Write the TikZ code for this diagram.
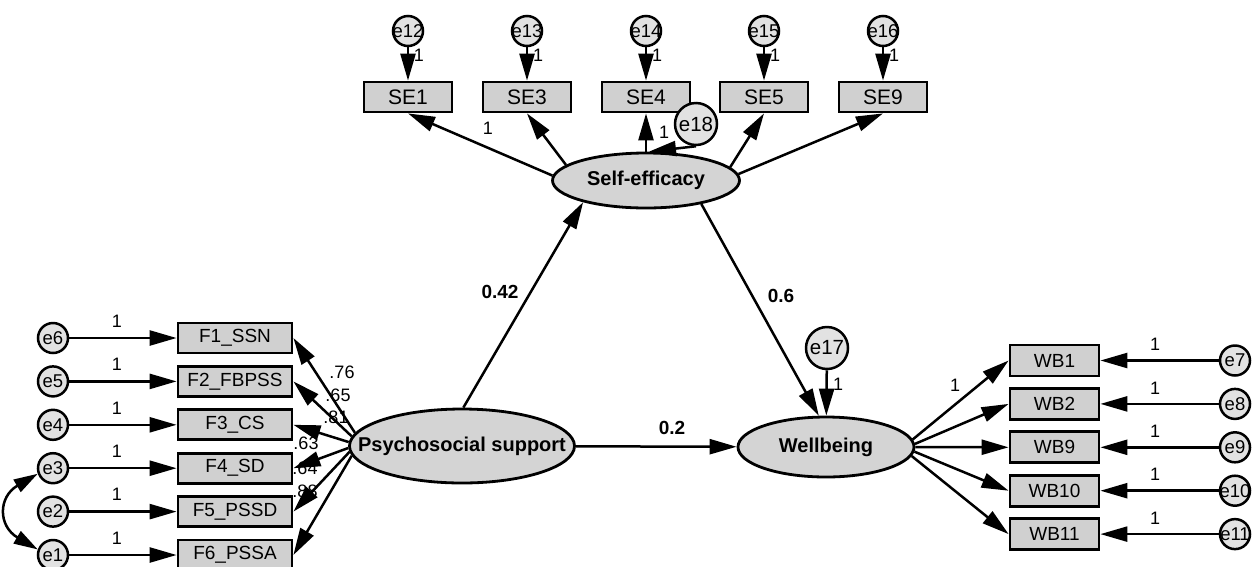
\documentclass[tikz,border=0pt]{standalone}
\usepackage{fontspec}
\setmainfont{Liberation Sans}
\usetikzlibrary{arrows.meta,shapes.geometric}
\definecolor{boxgray}{RGB}{208,208,208}
\definecolor{latgray}{RGB}{212,212,212}
\definecolor{errgray}{RGB}{226,226,226}
\begin{document}
\begin{tikzpicture}[x=1pt,y=-1pt,
  obs/.style={draw, line width=2.8pt, fill=boxgray, minimum width=88pt, minimum height=30pt, inner sep=0pt, font=\fontsize{19}{19}\selectfont},
  seobs/.style={obs, font=\fontsize{21}{21}\selectfont},
  fobs/.style={obs, minimum width=114pt},
  err/.style={circle, draw, line width=2.5pt, fill=errgray, minimum size=30pt, inner sep=0pt, font=\fontsize{18.5}{18.5}\selectfont},
  bigerr/.style={err, minimum size=42pt, font=\fontsize{20.5}{20.5}\selectfont},
  lat/.style={ellipse, draw, line width=2.8pt, fill=latgray, inner sep=0pt, font=\bfseries\fontsize{20}{20}\selectfont},
  arr/.style={line width=2.5pt, -{Triangle[length=27pt,width=15pt]}},
  cov/.style={line width=2.5pt, {Triangle[length=24pt,width=14pt]}-{Triangle[length=24pt,width=14pt]}},
  num/.style={font=\fontsize{18}{18}\selectfont, inner sep=0pt},
  coef/.style={font=\bfseries\fontsize{19}{19}\selectfont, inner sep=0pt}]
\useasboundingbox (0,0) rectangle (1256,566);
\clip (0,0) rectangle (1256,566);
\fill[white] (0,0) rectangle (1256,566);

% latent variables
\node[lat, minimum width=187pt, minimum height=55pt] (SEL) at (646,180.5) {\makebox[0pt]{Self-efficacy}};
\node[lat, minimum width=225pt, minimum height=74pt] (PSL) at (462,446) {\makebox[0pt]{Psychosocial support}};
\node[lat, minimum width=176pt, minimum height=60pt] (WBL) at (826,447) {\makebox[0pt]{Wellbeing}};

% self-efficacy indicators
\foreach \n/\lab/\x in {SE1/SE1/408, SE3/SE3/527, SE4/SE4/646, SE5/SE5/764, SE9/SE9/883}{
  \node[seobs] (\n) at (\x,97) {\lab};
}
\foreach \n/\lab/\x in {e12/e12/408, e13/e13/527, e14/e14/646, e15/e15/764, e16/e16/883}{
  \node[err] (\n) at (\x,31) {\makebox[0pt]{\lab}};
  \node[num] (l\n) at (\x+11,55) {1};
}
\draw[arr] (e12) -- (SE1);
\draw[arr] (e13) -- (SE3);
\draw[arr] (e14) -- (SE4);
\draw[arr] (e15) -- (SE5);
\draw[arr] (e16) -- (SE9);

\node[bigerr] (e18) at (696,124) {\makebox[0pt]{e18}};
\node[num] (le18) at (664,132) {1};
\node[num] (lSE1) at (488,128) {1};

\draw[arr] (SEL.177) -- (SE1.south);
\draw[arr] (SEL.169) -- (SE3.south);
\draw[arr] (SEL.90) -- (SE4.south);
\draw[arr] (SEL.9) -- (SE5.south);
\draw[arr] (SEL.4) -- (SE9.south);
\draw[arr] (e18.south) -- (SEL.84);

% psychosocial indicators
\foreach \n/\lab/\e/\y in {F1/F1\_SSN/e6/338, F2/F2\_FBPSS/e5/381.4, F3/F3\_CS/e4/424.8, F4/F4\_SD/e3/468.2, F5/F5\_PSSD/e2/511.6, F6/F6\_PSSA/e1/555}{
  \node[fobs] (\n) at (235,\y) {\lab};
  \node[err] (\e) at (53,\y) {\makebox[0pt]{\e}};
  \node[num] (l\e) at (117,\y-17) {1};
  \draw[arr] (\e) -- (\n);
}
\draw[cov] (e3.200) .. controls (-2,497) and (-2,526) .. (e1.160);

\node[num] (c1) at (342,372) {.76};
\node[num] (c2) at (338,395) {.65};
\node[num] (c3) at (336,417) {.81};
\node[num] (c4) at (306,443) {.63};
\node[num] (c5) at (305,468) {.64};
\node[num] (c6) at (305,491) {.88};

\draw[arr] (PSL.173) -- (F1.east);
\draw[arr] (PSL.175) -- (F2.east);
\draw[arr] (PSL.178) -- (F3.east);
\draw[arr] (PSL.181) -- (F4.east);
\draw[arr] (PSL.183) -- (F5.east);
\draw[arr] (PSL.185) -- (F6.east);

% wellbeing indicators
\foreach \n/\lab/\e/\y in {WB1/WB1/e7/360.5, WB2/WB2/e8/403.9, WB9/WB9/e9/447.3, WB10/WB10/e10/490.7, WB11/WB11/e11/534.1}{
  \node[obs, minimum width=89pt, minimum height=31pt] (\n) at (1054.5,\y) {\lab};
  \node[err] (\e) at (1235,\y) {\makebox[0pt]{\e}};
  \node[num] (l\e) at (1155,\y-16) {1};
  \draw[arr] (\e) -- (\n);
}
\node[num] (lWB1) at (955,385) {1};
\draw[arr] (WBL.5) -- (WB1.west);
\draw[arr] (WBL.2) -- (WB2.west);
\draw[arr] (WBL.0) -- (WB9.west);
\draw[arr] (WBL.357) -- (WB10.west);
\draw[arr] (WBL.354) -- (WB11.west);

\node[bigerr] (e17) at (827,348) {\makebox[0pt]{e17}};
\node[num] (le17) at (838,384) {1};
\draw[arr] (e17) -- (WBL);

% structural paths
\node[coef] (p1) at (500,292) {0.42};
\node[coef] (p2) at (781,296) {0.6};
\node[coef] (p3) at (672,428) {0.2};
\draw[arr] (PSL.88) -- (SEL.199);
\draw[arr] (SEL.337) -- (WBL.103);
\draw[arr] (PSL) -- (WBL);
\end{tikzpicture}
\end{document}
